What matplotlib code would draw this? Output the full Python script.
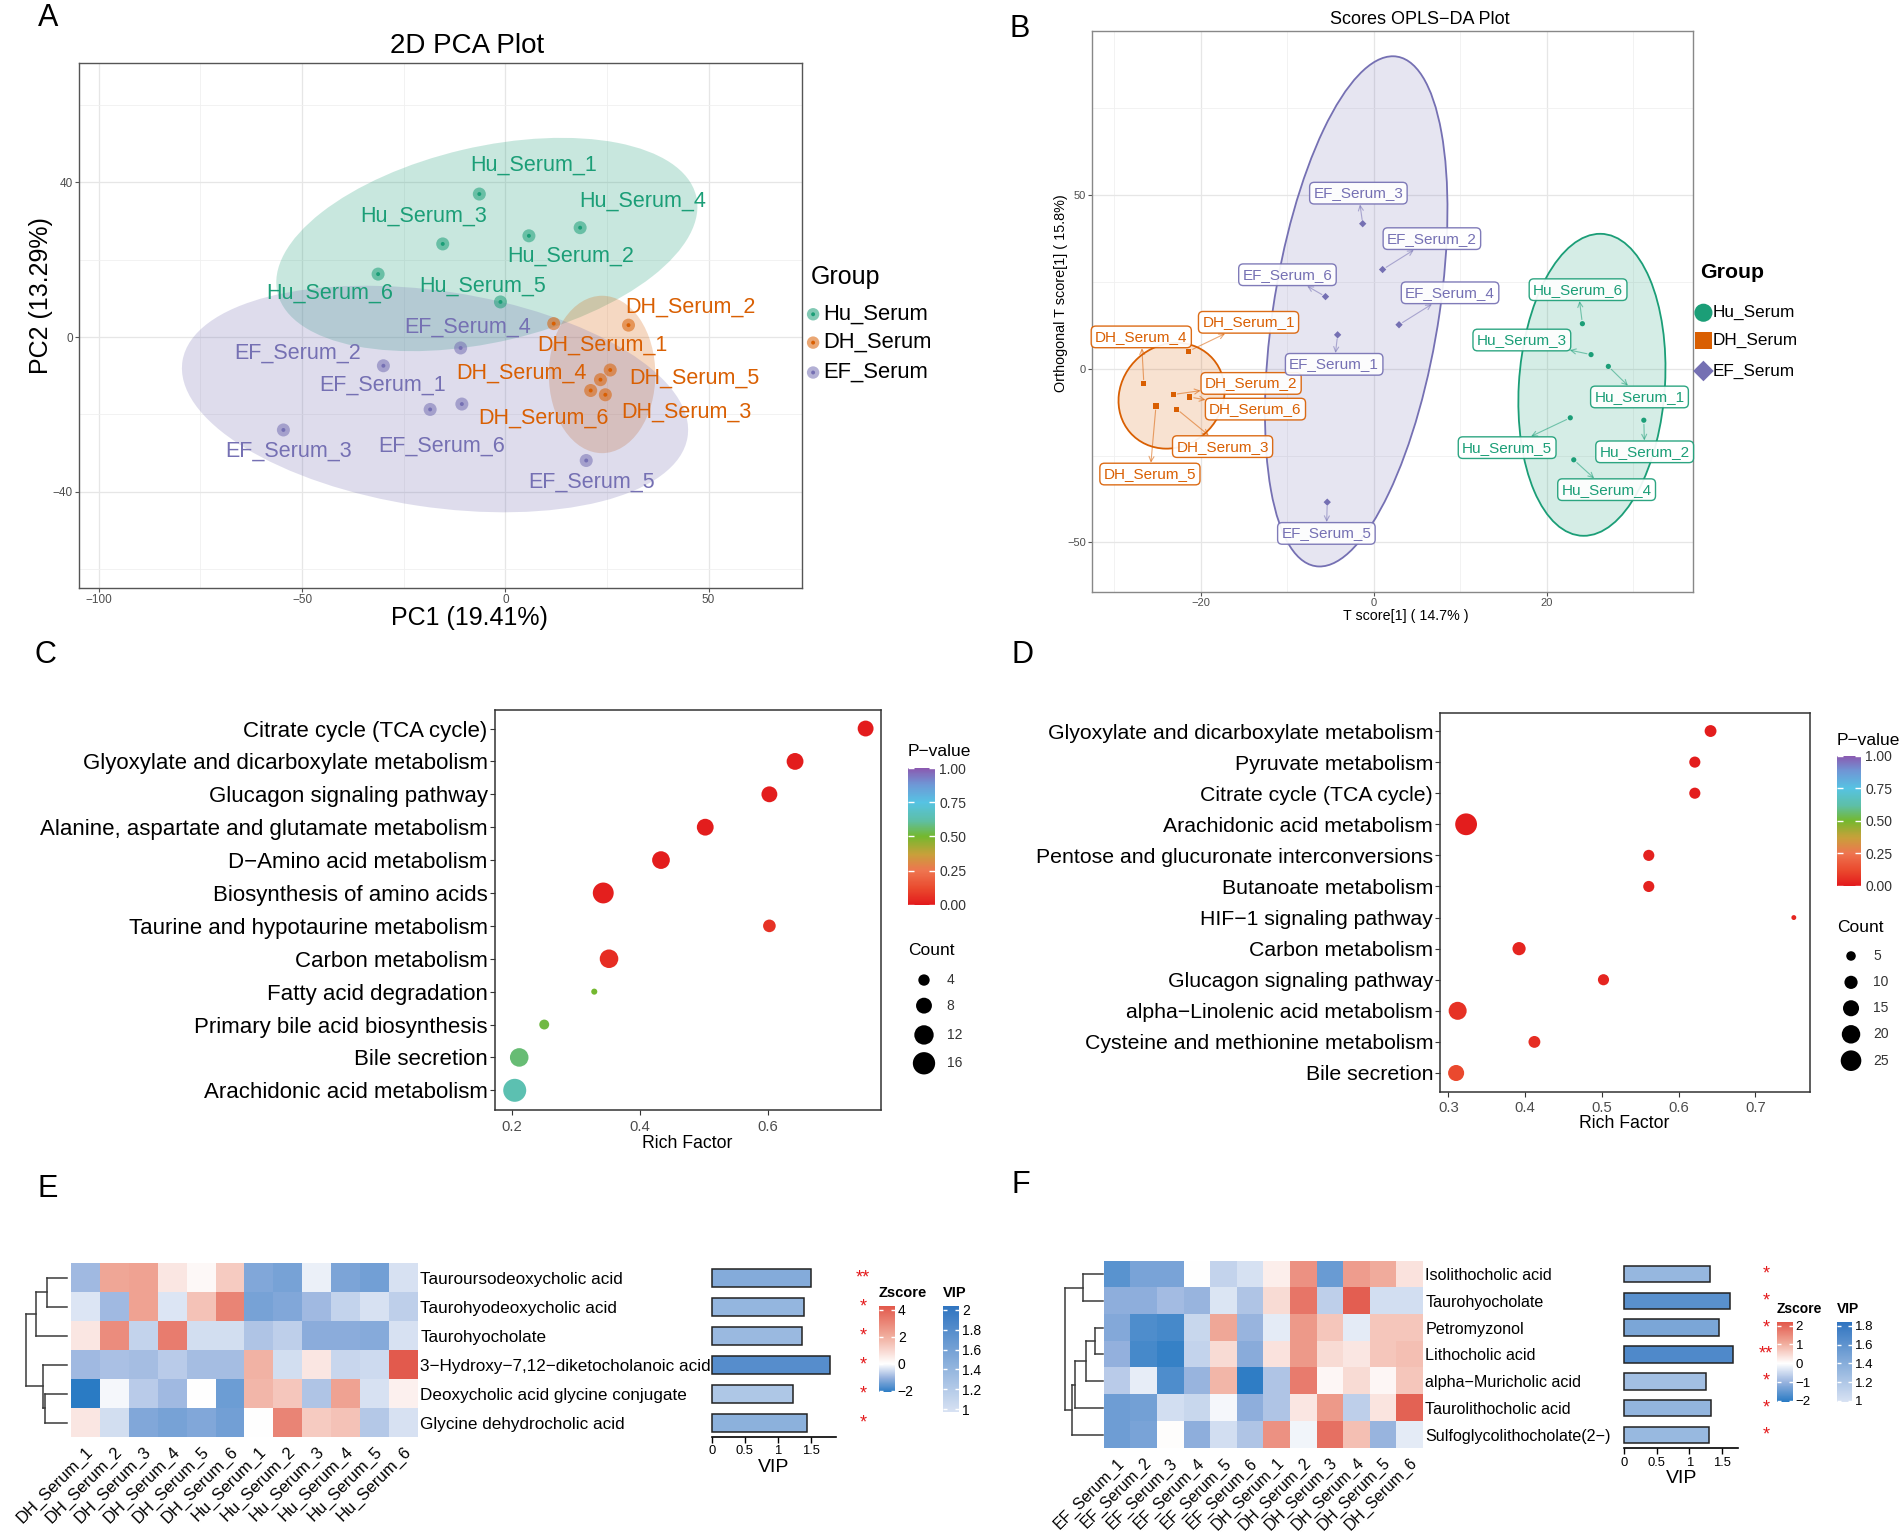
import matplotlib
matplotlib.use("Agg")
import matplotlib.pyplot as plt
from matplotlib.patches import Ellipse
from matplotlib.colors import LinearSegmentedColormap, Normalize
from matplotlib.cm import ScalarMappable

plt.rcParams["font.family"] = ["Liberation Sans", "DejaVu Sans"]

group_names = ["Hu_Serum", "DH_Serum", "EF_Serum"]
group_colors = ["#1B9E77", "#D95F02", "#7570B3"]

# ---------- A: 2D PCA, samples 1..6 of each group ----------
pca_hu_x = [-6.4, 5.8, -15.4, 18.4, -1.2, -31.3]
pca_hu_y = [37.0, 26.2, 24.1, 28.3, 9.1, 16.3]
pca_dh_x = [11.9, 30.3, 24.6, 23.4, 25.8, 21.0]
pca_dh_y = [3.5, 3.1, -14.9, -11.0, -8.5, -13.8]
pca_ef_x = [-18.5, -30.0, -54.6, -11.0, 19.9, -10.7]
pca_ef_y = [-18.7, -7.4, -24.0, -2.8, -31.9, -17.3]
pca_hu_lx = [7.0, 16.0, -20.1, 33.9, -5.7, -43.3]
pca_hu_ly = [44.4, 20.9, 31.2, 35.1, 13.3, 11.4]
pca_dh_lx = [23.9, 45.5, 44.6, 4.0, 46.6, 9.3]
pca_dh_ly = [-2.0, 7.8, -19.4, -9.4, -10.7, -21.0]
pca_ef_lx = [-30.3, -51.2, -53.3, -9.4, 21.2, -15.7]
pca_ef_ly = [-12.5, -4.1, -29.4, 2.5, -37.6, -28.2]
# group ellipses (Hu, DH, EF): centre, semi-axes, angle
pca_ell_cx = [-4.55, 23.8, -17.3]
pca_ell_cy = [23.95, -9.65, -16.0]
pca_ell_a = [53.0, 20.35, 62.9]
pca_ell_b = [25.2, 13.1, 27.9]
pca_ell_ang = [13.9, 90.0, -9.1]

# ---------- B: OPLS-DA scores ----------
opls_hu_x = [27.1, 31.2, 25.1, 23.1, 22.7, 24.1]
opls_hu_y = [0.7, -14.8, 4.1, -26.2, -14.1, 13.0]
opls_dh_x = [-21.4, -23.2, -22.8, -26.6, -25.2, -21.3]
opls_dh_y = [5.1, -7.4, -11.6, -4.3, -10.7, -8.1]
opls_ef_x = [-4.2, 1.0, -1.3, 2.9, -5.4, -5.6]
opls_ef_y = [9.8, 28.6, 41.8, 12.7, -38.4, 20.8]
opls_hu_lx = [30.7, 31.3, 17.1, 26.9, 15.4, 23.6]
opls_hu_ly = [-8.1, -23.9, 8.3, -34.8, -22.7, 22.8]
opls_dh_lx = [-14.5, -14.2, -17.5, -26.9, -25.9, -13.7]
opls_dh_ly = [13.4, -4.2, -22.4, 9.2, -30.3, -11.6]
opls_ef_lx = [-4.6, 6.7, -1.8, 8.8, -5.5, -10.0]
opls_ef_ly = [1.3, 37.5, 50.6, 21.9, -47.4, 27.1]
opls_ell_cx = [25.2, -23.4, -2.05]
opls_ell_cy = [-4.6, -7.75, 16.55]
opls_ell_a = [43.5, 15.25, 73.6]
opls_ell_b = [8.45, 6.1, 9.65]
opls_ell_ang = [88.7, 87.4, 86.65]

# ---------- C: KEGG enrichment ----------
c_terms = ["Citrate cycle (TCA cycle)", "Glyoxylate and dicarboxylate metabolism",
           "Glucagon signaling pathway", "Alanine, aspartate and glutamate metabolism",
           "D\u2212Amino acid metabolism", "Biosynthesis of amino acids",
           "Taurine and hypotaurine metabolism", "Carbon metabolism",
           "Fatty acid degradation", "Primary bile acid biosynthesis",
           "Bile secretion", "Arachidonic acid metabolism"]
c_rich = [0.752, 0.642, 0.602, 0.502, 0.433, 0.343, 0.602, 0.352, 0.329, 0.251, 0.212, 0.205]
c_pval = [0.005, 0.01, 0.01, 0.01, 0.01, 0.015, 0.06, 0.05, 0.50, 0.52, 0.57, 0.64]
c_count = [8, 9, 8, 9, 10, 14, 5, 11, 1, 3, 11, 17]
c_count_breaks = [4, 8, 12, 16]

# ---------- D: KEGG enrichment ----------
d_terms = ["Glyoxylate and dicarboxylate metabolism", "Pyruvate metabolism",
           "Citrate cycle (TCA cycle)", "Arachidonic acid metabolism",
           "Pentose and glucuronate interconversions", "Butanoate metabolism",
           "HIF\u22121 signaling pathway", "Carbon metabolism", "Glucagon signaling pathway",
           "alpha\u2212Linolenic acid metabolism", "Cysteine and methionine metabolism",
           "Bile secretion"]
d_rich = [0.6415, 0.621, 0.621, 0.323, 0.561, 0.561, 0.750, 0.392, 0.502, 0.312, 0.412, 0.310]
d_pval = [0.01, 0.01, 0.01, 0.01, 0.02, 0.02, 0.03, 0.03, 0.03, 0.06, 0.05, 0.12]
d_count = [8, 7, 7, 28, 7, 7, 1, 10, 7, 19, 8, 15]
d_count_breaks = [5, 10, 15, 20, 25]

# ---------- E: heatmap DH vs Hu ----------
e_rows = ["Tauroursodeoxycholic acid", "Taurohyodeoxycholic acid", "Taurohyocholate",
          "3\u2212Hydroxy\u22127,12\u2212diketocholanoic acid",
          "Deoxycholic acid glycine conjugate", "Glycine dehydrocholic acid"]
e_cols = ["DH_Serum_%d" % i for i in range(1, 7)] + ["Hu_Serum_%d" % i for i in range(1, 7)]
e_z = [
    [-0.95, 2.2, 2.3, 0.6, 0.15, 1.3, -1.25, -1.35, -0.2, -1.3, -1.4, -0.4],
    [-0.35, -0.95, 2.3, -0.35, 1.5, 3.1, -1.35, -1.25, -0.95, -0.6, -0.4, -0.65],
    [0.6, 2.9, -0.6, 3.3, -0.45, -0.45, -0.8, -0.65, -1.15, -1.15, -1.2, -0.4],
    [-0.95, -0.85, -0.9, -0.7, -0.9, -0.9, 1.9, -0.45, 0.6, -0.55, -0.5, 4.2],
    [-2.1, -0.1, -0.7, -0.95, 0.0, -1.45, 1.8, 1.4, -0.8, 2.3, -0.4, 0.35],
    [0.6, -0.45, -1.25, -1.35, -1.25, -1.4, 0.0, 3.1, 1.3, 1.5, -0.75, -0.4],
]
e_vip = [1.504, 1.398, 1.363, 1.793, 1.236, 1.448]
e_sig = ["**", "*", "*", "*", "*", "*"]
e_dendro = [(0, 1, 19.4), (4, 5, 21.7), (3, 7, 24.0), (6, 2, 30.3), (9, 8, 40.7)]
e_zrange = (-2.12, 4.32)
e_vrange = (0.97, 2.04)

# ---------- F: heatmap EF vs DH ----------
f_rows = ["Isolithocholic acid", "Taurohyocholate", "Petromyzonol", "Lithocholic acid",
          "alpha\u2212Muricholic acid", "Taurolithocholic acid", "Sulfoglycolithocholate(2\u2212)"]
f_cols = ["EF_Serum_%d" % i for i in range(1, 7)] + ["DH_Serum_%d" % i for i in range(1, 7)]
f_z = [
    [-1.6, -1.3, -1.3, 0.0, -0.58, -0.4, 0.2, 1.4, -1.45, 1.25, 1.05, 0.35],
    [-1.1, -1.1, -0.9, -1.0, -0.35, -0.77, 0.45, 1.78, -0.62, 2.1, -0.43, -0.43],
    [-1.2, -1.7, -1.78, -0.53, 1.1, -1.0, -0.26, 1.3, 0.72, -0.26, 0.72, 0.72],
    [-1.05, -1.78, -1.92, -0.58, 0.45, -1.15, 0.36, 1.3, 0.45, 0.3, 0.72, 0.8],
    [-0.67, -0.22, -1.7, -1.0, 0.92, -2.0, -0.77, 1.7, 0.1, 0.45, 0.1, 0.72],
    [-1.4, -1.35, -0.43, -0.53, -0.1, -1.1, -0.77, 0.3, 1.3, -0.62, 0.33, 2.05],
    [-1.4, -1.3, 0.02, -1.1, -0.43, -0.77, 1.4, -0.12, 1.85, 0.8, -1.0, -0.26],
]
f_vip = [1.323, 1.628, 1.458, 1.679, 1.262, 1.339, 1.312]
f_sig = ["*", "*", "*", "**", "*", "*", "*"]
f_dendro = [(2, 3, 8.4), (7, 4, 18.0), (0, 1, 20.4), (8, 5, 28.4), (10, 6, 32.0), (9, 11, 39.4)]
f_zrange = (-2.05, 2.21)
f_vrange = (0.989, 1.843)


def zscore_cmap(vmin, vmax):
    w = -vmin / (vmax - vmin)
    return LinearSegmentedColormap.from_list(
        "z", [(0, "#2A7BC4"), (w / 2, "#96B2DE"), (w, "#FFFFFF"),
              (w + (1 - w) / 2, "#F0A898"), (1, "#E2574A")])


vip_cmap = LinearSegmentedColormap.from_list("vip", ["#D8E2F3", "#2F74C0"])
p_cmap = LinearSegmentedColormap.from_list(
    "p", [(0, "#E31A1C"), (0.12, "#EA4A2E"), (0.25, "#EE7550"), (0.37, "#C8A03A"),
          (0.5, "#74B82E"), (0.62, "#5DBFA8"), (0.75, "#56C3E3"), (0.88, "#6E98D6"),
          (1.0, "#8B59B0")])

fig = plt.figure(figsize=(19.02, 15.33), dpi=100)
ov = fig.add_axes([0, 0, 1, 1], zorder=20)
ov.set_xlim(0, 1)
ov.set_ylim(0, 1)
ov.axis("off")
ov.patch.set_visible(False)

for lx, ly, t in [(0.0255, 0.988, "A"), (0.536, 0.981, "B"), (0.024, 0.573, "C"),
                  (0.5377, 0.573, "D"), (0.0249, 0.2247, "E"), (0.5368, 0.227, "F")]:
    fig.text(lx, ly, t, fontsize=22, ha="center", va="center")


def gg_frame(ax, edge):
    for s in ax.spines.values():
        s.set_color(edge)
        s.set_linewidth(1.0)
    ax.tick_params(which="major", length=3, color="#555555", labelcolor="#4d4d4d", pad=1.5)
    ax.tick_params(which="minor", length=0)
    ax.grid(True, which="major", color="#e6e6e6", lw=0.9, zorder=0)
    ax.grid(True, which="minor", color="#f0f0f0", lw=0.6, zorder=0)
    ax.set_axisbelow(True)


# ================= A =================
axA = fig.add_axes([0.0415, 0.6166, 0.3802, 0.3421])
axA.set_xlim(-104.9, 73.0)
axA.set_ylim(-64.8, 70.8)
axA.set_xticks([-100, -50, 0, 50])
axA.set_xticks([-75, -25, 25], minor=True)
axA.set_yticks([-40, 0, 40])
axA.set_yticks([-60, -20, 20, 60], minor=True)
gg_frame(axA, "#555555")
axA.tick_params(labelsize=8.5)
pca_sets = [(pca_hu_x, pca_hu_y, pca_hu_lx, pca_hu_ly),
            (pca_dh_x, pca_dh_y, pca_dh_lx, pca_dh_ly),
            (pca_ef_x, pca_ef_y, pca_ef_lx, pca_ef_ly)]
for k, (g, col) in enumerate(zip(group_names, group_colors)):
    axA.add_patch(Ellipse((pca_ell_cx[k], pca_ell_cy[k]), 2 * pca_ell_a[k], 2 * pca_ell_b[k],
                          angle=pca_ell_ang[k], fc=col, alpha=0.24, ec="none", zorder=1))
for k, (g, col) in enumerate(zip(group_names, group_colors)):
    xs, ys, lxs, lys = pca_sets[k]
    axA.scatter(xs, ys, s=88, color=col, alpha=0.55, edgecolors="none", zorder=3)
    axA.scatter(xs, ys, s=8, color=col, edgecolors="none", zorder=4)
    for i in range(6):
        axA.text(lxs[i], lys[i], "%s_%d" % (g, i + 1), color=col, fontsize=15.5,
                 ha="center", va="center", zorder=5)
fig.text(0.2456, 0.970, "2D PCA Plot", fontsize=20, ha="center", va="center")
fig.text(0.247, 0.5966, "PC1 (19.41%)", fontsize=18, ha="center", va="center")
fig.text(0.0217, 0.8075, "PC2 (13.29%)", fontsize=18, ha="center", va="center", rotation=90)
fig.text(0.426, 0.819, "Group", fontsize=18, ha="left", va="center")
for k, (g, col) in enumerate(zip(group_names, group_colors)):
    yy = [0.795, 0.7765, 0.757][k]
    ov.scatter([0.4275], [yy], s=80, color=col, alpha=0.55, edgecolors="none")
    ov.scatter([0.4275], [yy], s=8, color=col, edgecolors="none")
    ov.text(0.433, yy, g, fontsize=15.8, ha="left", va="center")

# ================= B =================
axB = fig.add_axes([0.5743, 0.614, 0.3156, 0.366])
axB.set_xlim(-32.56, 36.84)
axB.set_ylim(-64.2, 97.4)
axB.set_xticks([-20, 0, 20])
axB.set_xticks([-30, -10, 10, 30], minor=True)
axB.set_yticks([-50, 0, 50])
axB.set_yticks([-25, 25, 75], minor=True)
gg_frame(axB, "#888888")
axB.tick_params(labelsize=8)
opls_sets = [(opls_hu_x, opls_hu_y, opls_hu_lx, opls_hu_ly),
             (opls_dh_x, opls_dh_y, opls_dh_lx, opls_dh_ly),
             (opls_ef_x, opls_ef_y, opls_ef_lx, opls_ef_ly)]
opls_markers = ["o", "s", "D"]
for k, (g, col) in enumerate(zip(group_names, group_colors)):
    axB.add_patch(Ellipse((opls_ell_cx[k], opls_ell_cy[k]), 2 * opls_ell_a[k], 2 * opls_ell_b[k],
                          angle=opls_ell_ang[k], fc=col, alpha=0.18, ec="none", zorder=1))
    axB.add_patch(Ellipse((opls_ell_cx[k], opls_ell_cy[k]), 2 * opls_ell_a[k], 2 * opls_ell_b[k],
                          angle=opls_ell_ang[k], fc="none", ec=col, lw=1.3, zorder=2))
for k, (g, col) in enumerate(zip(group_names, group_colors)):
    xs, ys, lxs, lys = opls_sets[k]
    axB.scatter(xs, ys, s=14, marker=opls_markers[k], color=col, edgecolors="none", zorder=4)
    for i in range(6):
        axB.annotate("%s_%d" % (g, i + 1), xy=(xs[i], ys[i]), xytext=(lxs[i], lys[i]),
                     color=col, fontsize=11, ha="center", va="center", zorder=5,
                     bbox=dict(boxstyle="round,pad=0.25,rounding_size=0.3", fc="white",
                               ec=col, lw=1.0, alpha=0.92),
                     arrowprops=dict(arrowstyle="<-", color=col, alpha=0.55, lw=0.8,
                                     shrinkA=0, shrinkB=3, mutation_scale=9))
fig.text(0.7466, 0.987, "Scores OPLS\u2212DA Plot", fontsize=13, ha="center", va="center")
fig.text(0.739, 0.598, "T score[1] ( 14.7% )", fontsize=10.3, ha="center", va="center")
fig.text(0.558, 0.809, "Orthogonal T score[1] ( 15.8%)", fontsize=10.4, ha="center",
         va="center", rotation=90)
fig.text(0.894, 0.822, "Group", fontsize=15.3, fontweight="bold", ha="left", va="center")
for k, (g, col) in enumerate(zip(group_names, group_colors)):
    yy = [0.796, 0.778, 0.758][k]
    ov.scatter([0.8956], [yy], s=[170, 150, 110][k], marker=opls_markers[k], color=col,
               edgecolors="none")
    ov.text(0.9004, yy, g, fontsize=12.3, ha="left", va="center")


# ================= C / D =================
def size_px2(count, a0, b0):
    return (a0 + b0 * count) * 0.72 ** 2


def enrich_panel(rect, terms, rich, pval, count, xlim, xticks, ylabsize, a0, b0):
    ax = fig.add_axes(rect)
    ypos = list(range(len(terms)))
    ax.scatter(rich, ypos, s=[size_px2(c, a0, b0) for c in count], c=pval, cmap=p_cmap,
               vmin=0, vmax=1, edgecolors="none", zorder=3)
    ax.set_xlim(*xlim)
    ax.set_ylim(len(terms) - 0.4, -0.57)
    ax.set_yticks(ypos)
    ax.set_yticklabels(terms, fontsize=ylabsize, color="black")
    ax.set_xticks(xticks)
    ax.set_xticklabels(["%g" % t for t in xticks])
    for s in ax.spines.values():
        s.set_color("#333333")
        s.set_linewidth(1.1)
    ax.tick_params(axis="both", length=3.5, color="#333333")
    ax.tick_params(axis="x", labelsize=10.7, labelcolor="#4d4d4d")
    ax.tick_params(axis="y", pad=1.5)
    return ax


def p_legend(x0, ytitle, cbar_rect, count_title_y, count_y, breaks, a0, b0, mx, lx):
    fig.text(x0, ytitle, "P\u2212value", fontsize=12.5, ha="left", va="center")
    cax = fig.add_axes(cbar_rect)
    cb = fig.colorbar(ScalarMappable(norm=Normalize(0, 1), cmap=p_cmap), cax=cax,
                      ticks=[0, 0.25, 0.5, 0.75, 1.0])
    cb.outline.set_visible(False)
    cb.ax.set_yticklabels(["0.00", "0.25", "0.50", "0.75", "1.00"])
    cb.ax.tick_params(direction="in", length=4, width=1, color="white", labelsize=10,
                      labelcolor="#333333", left=True, right=True, pad=3)
    fig.text(x0, count_title_y, "Count", fontsize=12.5, ha="left", va="center")
    for b, yy in zip(breaks, count_y):
        ov.scatter([mx], [yy], s=size_px2(b, a0, b0), color="black", edgecolors="none")
        ov.text(lx, yy, str(b), fontsize=10, color="#333333", ha="left", va="center")


c_a0, c_b0 = 6.25, 30.75
d_a0, d_b0 = 7.3, 16.7
axC = enrich_panel([0.26, 0.2759, 0.2032, 0.2611], c_terms, c_rich, c_pval, c_count,
                   (0.1735, 0.776), [0.2, 0.4, 0.6], 16, c_a0, c_b0)
fig.text(0.3615, 0.254, "Rich Factor", fontsize=12.7, ha="center", va="center")
p_legend(0.4774, 0.5097, [0.4774, 0.4097, 0.0142, 0.0893], 0.3803,
         [0.3607, 0.3440, 0.3249, 0.3064], c_count_breaks, c_a0, c_b0, 0.4858, 0.4977)

axD = enrich_panel([0.7571, 0.2879, 0.1945, 0.2468], d_terms, d_rich, d_pval, d_count,
                   (0.289, 0.771), [0.3, 0.4, 0.5, 0.6, 0.7], 15.3, d_a0, d_b0)
fig.text(0.854, 0.2672, "Rich Factor", fontsize=12.7, ha="center", va="center")
p_legend(0.9658, 0.517, [0.9658, 0.4222, 0.0127, 0.0848], 0.3953,
         [0.3764, 0.3592, 0.3423, 0.3253, 0.3081], d_count_breaks, d_a0, d_b0, 0.9732, 0.9848)


# ================= E / F =================
def draw_dendro(ax, merges, n):
    pos = [float(i) for i in range(n)]
    hgt = [0.0] * n
    for a, b, h in merges:
        for c in (a, b):
            ax.plot([hgt[c], h], [pos[c], pos[c]], color="#3a3a3a", lw=1.1, clip_on=False)
        ax.plot([h, h], [pos[a], pos[b]], color="#3a3a3a", lw=1.1, clip_on=False)
        pos.append((pos[a] + pos[b]) / 2)
        hgt.append(h)
    ax.set_xlim(max(hgt), 0)
    ax.set_ylim(n - 0.5, -0.5)
    ax.axis("off")


def heat_panel(hm_rect, dd_rect, bar_rect, rows, cols, z, zr, vip, vr, sig, merges,
               rowfs, colfs, vip_xmax, star_x, zc_rect, vc_rect, ztick, vtick, legfs):
    n = len(rows)
    axh = fig.add_axes(hm_rect)
    zmap = zscore_cmap(*zr)
    axh.imshow(z, cmap=zmap, norm=Normalize(*zr), aspect="auto", interpolation="nearest")
    axh.yaxis.tick_right()
    axh.set_yticks(range(n))
    axh.set_yticklabels(rows, fontsize=rowfs)
    axh.set_xticks(range(len(cols)))
    axh.set_xticklabels(cols, fontsize=colfs, rotation=45, ha="right", va="top",
                        rotation_mode="anchor")
    axh.tick_params(length=0, pad=2)
    axh.tick_params(axis="x", pad=5)
    for s in axh.spines.values():
        s.set_visible(False)

    axd = fig.add_axes(dd_rect)
    draw_dendro(axd, merges, n)

    axb = fig.add_axes(bar_rect)
    axb.patch.set_visible(False)
    vnorm = Normalize(*vr)
    axb.barh(range(n), vip, height=0.62, color=[vip_cmap(vnorm(v)) for v in vip],
             edgecolor="#222222", linewidth=1.1, clip_on=False)
    axb.set_ylim(n - 0.5, -0.5)
    axb.set_xlim(0, vip_xmax)
    axb.set_yticks([])
    axb.set_xticks([0, 0.5, 1, 1.5])
    axb.set_xticklabels(["0", "0.5", "1", "1.5"])
    for side in ("top", "right", "left"):
        axb.spines[side].set_visible(False)
    axb.spines["bottom"].set_linewidth(1.2)
    axb.tick_params(axis="x", length=4, width=1.0, labelsize=9.4, pad=2)
    axb.set_xlabel("VIP", fontsize=14, labelpad=1)
    for i, s in enumerate(sig):
        axb.text(star_x, i, s, transform=axb.get_yaxis_transform(), color="#E41A1C",
                 fontsize=13, ha="center", va="center", clip_on=False)

    for rect, cmap, rng, ticks, title in [(zc_rect, zmap, zr, ztick, "Zscore"),
                                          (vc_rect, vip_cmap, vr, vtick, "VIP")]:
        cax = fig.add_axes(rect)
        cb = fig.colorbar(ScalarMappable(norm=Normalize(*rng), cmap=cmap), cax=cax,
                          ticks=ticks)
        cb.outline.set_visible(False)
        cb.ax.set_yticklabels([("%g" % t).replace("-", "\u2212") for t in ticks])
        cb.ax.tick_params(direction="in", length=3, width=1, color="white",
                          labelsize=legfs, left=True, right=True, pad=2)
        fig.text(rect[0], rect[1] + rect[3] + 0.008, title, fontsize=legfs + 0.5,
                 fontweight="bold", ha="left", va="center")


heat_panel([0.0373, 0.0626, 0.1822, 0.1132], [0.01367, 0.0626, 0.0214, 0.1132],
           [0.3742, 0.0626, 0.0653, 0.1132], e_rows, e_cols, e_z, e_zrange, e_vip,
           e_vrange, e_sig, e_dendro, 12.3, 12, 1.88, 1.217,
           [0.4621, 0.0918, 0.0085, 0.0565], [0.4958, 0.0787, 0.0085, 0.0696],
           [-2, 0, 2, 4], [1, 1.2, 1.4, 1.6, 1.8, 2], 10)

heat_panel([0.5804, 0.0553, 0.1675, 0.1223], [0.5597, 0.0553, 0.0204, 0.1223],
           [0.8541, 0.0553, 0.0597, 0.1223], f_rows, f_cols, f_z, f_zrange, f_vip,
           f_vrange, f_sig, f_dendro, 11.6, 11.3, 1.755, 1.244,
           [0.9343, 0.0856, 0.0084, 0.0522], [0.9658, 0.0856, 0.0079, 0.0522],
           [-2, -1, 0, 1, 2], [1, 1.2, 1.4, 1.6, 1.8], 9.5)

fig.savefig("out.png", dpi=100)
